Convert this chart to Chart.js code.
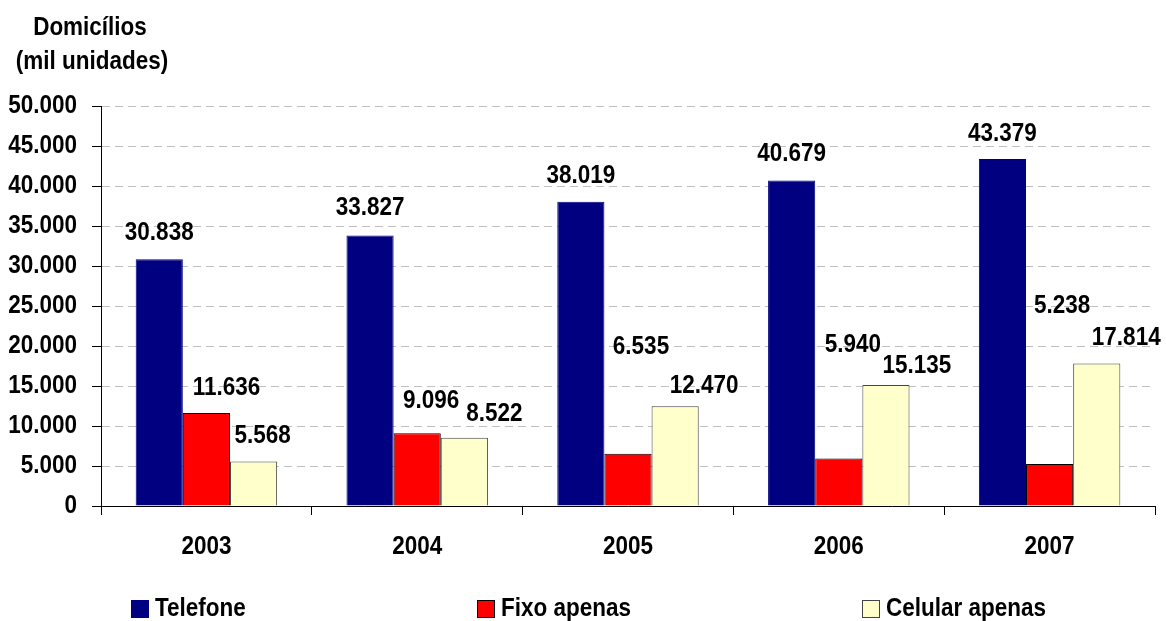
<!DOCTYPE html>
<html>
<head>
<meta charset="utf-8">
<script src="https://cdn.jsdelivr.net/npm/chart.js@4.4.1/dist/chart.umd.min.js"></script>
<style>
  html, body { margin: 0; padding: 0; background: #fff; }
  #chart { display: block; }
</style>
</head>
<body>
<canvas id="chart" width="1166" height="621"></canvas>
<script>
const years = ['2003', '2004', '2005', '2006', '2007']
const telefone = [30838, 33827, 38019, 40679, 43379]
const fixoApenas = [11636, 9096, 6535, 5940, 5238]
const celularApenas = [5568, 8522, 12470, 15135, 17814]
const yTicks = [0, 5000, 10000, 15000, 20000, 25000, 30000, 35000, 40000, 45000, 50000]

const FONT = "bold 26px 'Liberation Sans', Arial, sans-serif"
const SQUEEZE = 0.865 // original text is a narrow bold face
const fmt = v => v.toLocaleString('pt-BR')

// label offsets (px) from the top-centre of each bar, as placed in the original
const labelShift = [
  { dx: [0, 0, 0, 0, 0], dy: [26, 27.5, 26, 26.5, 25.5] },
  { dx: [20, 14, 13, 14, 12.5], dy: [25.5, 32, 107, 113.5, 158] },
  { dx: [9, 30, 29, 31, 29.5], dy: [26, 23.5, 20, 19.5, 25.5] }
]
const legendX = [131, 477, 862]

function narrowText(ctx, text, x, y, align) {
  ctx.save()
  ctx.translate(x, y)
  ctx.scale(SQUEEZE, 1)
  ctx.font = FONT
  ctx.fillStyle = '#000'
  ctx.textAlign = align
  ctx.textBaseline = 'middle'
  ctx.fillText(text, 0, 0)
  ctx.restore()
}

const valueLabels = {
  id: 'valueLabels',
  afterDatasetsDraw(chart) {
    const ctx = chart.ctx
    chart.data.datasets.forEach((ds, di) => {
      chart.getDatasetMeta(di).data.forEach((bar, i) => {
        const s = labelShift[di]
        narrowText(ctx, fmt(ds.data[i]), bar.x + s.dx[i], bar.y - s.dy[i], 'center')
      })
    })
  }
}

const axisText = {
  id: 'axisText',
  afterDraw(chart) {
    const ctx = chart.ctx
    const xs = chart.scales.x
    const ys = chart.scales.y
    yTicks.forEach(v => narrowText(ctx, fmt(v), ys.right - 24, ys.getPixelForValue(v), 'right'))
    years.forEach((y, i) => narrowText(ctx, y, xs.getPixelForTick(i), 547, 'center'))

    narrowText(ctx, 'Domicílios', 90, 28, 'center')
    narrowText(ctx, '(mil unidades)', 92, 62, 'center')

    chart.data.datasets.forEach((ds, di) => {
      const x = legendX[di]
      ctx.save()
      ctx.fillStyle = ds.backgroundColor
      ctx.fillRect(x, 600, 18, 18)
      ctx.strokeStyle = ds.borderColor
      ctx.lineWidth = 1
      ctx.strokeRect(x + 0.5, 600.5, 17, 17)
      ctx.restore()
      narrowText(ctx, ds.label, x + 24, 609, 'left')
    })
  }
}

const ctx = document.getElementById('chart').getContext('2d')
new Chart(ctx, {
  type: 'bar',
  data: {
    labels: years,
    datasets: [
      { label: 'Telefone', data: telefone, backgroundColor: '#000080', borderColor: '#000080', borderWidth: 1 },
      { label: 'Fixo apenas', data: fixoApenas, backgroundColor: '#ff0000', borderColor: '#000000', borderWidth: 1 },
      { label: 'Celular apenas', data: celularApenas, backgroundColor: '#ffffcc', borderColor: '#444444', borderWidth: 1 }
    ]
  },
  options: {
    responsive: false,
    animation: false,
    datasets: { bar: { categoryPercentage: 0.671, barPercentage: 1.0 } },
    layout: { padding: { top: 106, right: 11, left: 0, bottom: 0 } },
    plugins: {
      legend: { display: false },
      tooltip: { enabled: false }
    },
    scales: {
      x: {
        grid: {
          display: true,
          drawOnChartArea: false,
          drawTicks: true,
          tickLength: 9,
          color: '#000'
        },
        border: { display: true, color: '#000', width: 1 },
        ticks: { display: false },
        afterFit(scale) { scale.height = 115 }
      },
      y: {
        min: 0,
        max: 50000,
        afterBuildTicks(scale) { scale.ticks = yTicks.map(v => ({ value: v })) },
        grid: {
          color: '#c0c0c0',
          tickColor: '#000',
          tickLength: 9,
          lineWidth: 1
        },
        border: { display: true, color: '#000', width: 1, dash: [8, 5] },
        ticks: { display: false },
        afterFit(scale) { scale.width = 101 }
      }
    }
  },
  plugins: [valueLabels, axisText]
})
</script>
</body>
</html>
